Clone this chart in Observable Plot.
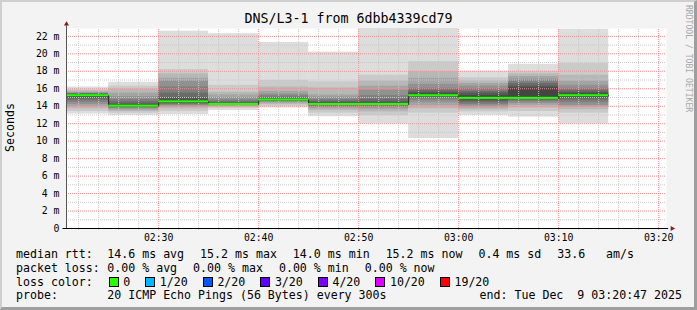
<!DOCTYPE html>
<html>
<head>
<meta charset="utf-8">
<script src="https://cdn.jsdelivr.net/npm/d3@7"></script>
<script src="https://cdn.jsdelivr.net/npm/@observablehq/plot@0.6"></script>
<style>
html,body{margin:0;padding:0;background:#ffffff;}
#chart{position:relative;width:697px;height:310px;background:#f3f3f3;overflow:hidden;font-family:"DejaVu Sans Mono",monospace;color:#000;}
#frame{position:absolute;left:0;top:0;width:697px;height:310px;box-sizing:border-box;border-top:2px solid #cfcfcf;border-left:2px solid #cfcfcf;border-right:3px solid #9e9e9e;border-bottom:3px solid #9e9e9e;pointer-events:none;}
#title{position:absolute;left:0;top:11px;width:697px;text-align:center;font-size:13.3px;line-height:16px;white-space:pre;}
#plot{position:absolute;left:0;top:0;}
#ylabel{position:absolute;left:3px;top:103px;writing-mode:vertical-rl;transform:rotate(180deg);font-size:11.6px;line-height:14px;white-space:pre;}
#vendor{position:absolute;left:684px;top:5px;writing-mode:vertical-rl;font-size:8.1px;line-height:9px;color:#a8a8a8;white-space:pre;}
#legend{position:absolute;left:16px;top:247px;width:666px;font-size:11.6px;white-space:pre;}
.line{position:relative;display:flex;align-items:center;height:13.8px;}
.lab{display:inline-block;width:91.3px;}
.item{margin-left:16px;}
.item.first{margin-left:0;}
.box{display:inline-block;width:8px;height:8px;border:1px solid #000;margin-right:4.6px;}
.li{display:flex;align-items:center;margin-left:15px;}
.li.first{margin-left:1.4px;}
.end{position:absolute;right:0;}
</style>
</head>
<body>
<div id="chart">
  <div id="plot"></div>
  <div id="title"></div>
  <div id="ylabel"></div>
  <div id="vendor"></div>
  <div id="legend"></div>
  <div id="frame"></div>
</div>
<script>
// ---------- data ----------
const titleText = "DNS/L3-1 from 6dbb4339cd79";
const yLabelText = "Seconds";
const vendorText = "RRDTOOL / TOBI OETIKER";
const windowStart = "02:20:47";
const windowEnd = "03:20:47";
const dayUTC = [2025, 11, 9];
const binStarts = ["02:20","02:25","02:30","02:35","02:40","02:45","02:50","02:55","03:00","03:05","03:10"];
const binMinutes = 5;
const medians = [15.2, 14.0, 14.5, 14.2, 14.7, 14.2, 14.2, 15.2, 14.9, 14.9, 15.2];
// 20 sorted ping times (ms) per 5-minute bin
const pings = [
  [13.1,13.4,13.7,13.95,14.2,14.45,14.7,14.9,15.05,15.15,15.25,15.3,15.35,15.4,15.45,15.5,15.6,15.75,15.9,16.2],
  [12.95,13.2,13.4,13.55,13.7,13.8,13.85,13.9,13.95,14.0,14.0,14.1,14.25,14.5,14.8,15.1,15.5,15.95,16.3,16.75],
  [13.05,13.4,13.7,13.9,14.05,14.15,14.25,14.35,14.45,14.5,14.5,14.7,15.0,15.5,16.2,16.9,17.2,17.7,18.2,22.6],
  [13.5,13.75,13.9,14.0,14.05,14.1,14.15,14.15,14.2,14.2,14.2,14.25,14.35,14.5,14.7,15.0,15.3,15.6,16.4,22.3],
  [13.8,14.0,14.2,14.35,14.45,14.55,14.6,14.65,14.7,14.7,14.7,14.75,14.85,15.0,15.2,15.4,15.7,16.2,16.95,21.3],
  [12.8,13.2,13.5,13.7,13.85,13.95,14.05,14.1,14.15,14.2,14.2,14.3,14.45,14.6,14.8,15.05,15.3,16.1,16.8,20.2],
  [12.0,12.9,13.35,13.6,13.8,13.95,14.05,14.1,14.15,14.2,14.2,14.3,14.5,14.8,15.2,15.85,16.3,16.9,17.55,23.0],
  [10.3,13.2,13.7,14.05,14.4,14.7,14.9,15.05,15.15,15.2,15.25,15.4,15.6,15.85,16.05,16.5,17.2,17.95,19.1,23.0],
  [12.95,13.35,13.6,13.8,14.0,14.2,14.4,14.6,14.8,14.9,14.95,15.2,15.5,15.7,16.0,16.3,16.6,16.9,17.25,18.0],
  [12.75,13.4,13.8,14.1,14.3,14.5,14.65,14.8,14.85,14.9,14.95,16.1,16.3,16.6,16.9,17.1,17.4,17.7,18.0,18.8],
  [12.0,13.2,13.6,13.9,14.1,14.4,14.7,14.9,15.05,15.15,15.25,15.4,15.6,15.85,16.05,16.4,16.9,17.55,18.9,22.8]
];
const yMax = 22.9;
const yTickValues = [0,2,4,6,8,10,12,14,16,18,20,22];
const xTickLabels = ["02:30","02:40","02:50","03:00","03:10","03:20"];
const rttLabel = "median rtt:";
const rttStats = ["14.6 ms avg","15.2 ms max","14.0 ms min","15.2 ms now","0.4 ms sd","33.6   am/s"];
const lossLabel = "packet loss:";
const lossStats = ["0.00 % avg","0.00 % max","0.00 % min","0.00 % now"];
const lossColorLabel = "loss color:";
const lossLabels = ["0","1/20","2/20","3/20","4/20","10/20","19/20"];
const lossColors = ["#26ff00","#00b8ff","#0059ff","#5e00ff","#7e00ff","#dd00ff","#ff0000"];
const probeLabel = "probe:";
const probeText = "20 ICMP Echo Pings (56 Bytes) every 300s";
const endText = "end: Tue Dec  9 03:20:47 2025";

// ---------- build ----------
const T = s => {
  const [h, m, sec] = s.split(":").map(Number);
  return new Date(Date.UTC(dayUTC[0], dayUTC[1], dayUTC[2], h, m, sec || 0));
};
const addMin = (d, m) => new Date(d.getTime() + m * 60000);
const t0 = T(windowStart), t1 = T(windowEnd);
const fmt = d3.utcFormat("%H:%M");

const half = 10;
const smoke = [];
binStarts.forEach((s, b) => {
  const p = pings[b];
  for (let ii = 1; ii <= half; ii++) {
    const g = Math.floor(190 / half * (half - ii)) + 50;
    smoke.push({x1: T(s), x2: addMin(T(s), binMinutes), y1: p[ii - 1], y2: p[20 - ii], fill: `rgb(${g},${g},${g})`});
  }
});
const medSteps = binStarts.map((s, b) => ({x: T(s), y: medians[b]}));
medSteps.push({x: addMin(T(binStarts[binStarts.length - 1]), binMinutes), y: medians[medians.length - 1]});
const medBand = binStarts.map((s, b) => ({x1: T(s), x2: addMin(T(s), binMinutes), m: medians[b]}));

const xMajor = xTickLabels.map(T);
const xMinor = d3.utcMinute.every(2).range(t0, t1).filter(d => d.getUTCMinutes() % 10 !== 0);
const yMajor = yTickValues.filter(v => v > 0);
const yMinor = d3.range(1, yMax, 2);

const gridStyle = {strokeDasharray: "1,1", strokeWidth: 1};
const plot = Plot.plot({
  width: 697, height: 245,
  marginLeft: 66, marginRight: 31, marginTop: 28, marginBottom: 17,
  style: {background: "transparent", fontFamily: "DejaVu Sans Mono", fontSize: "9.8px", color: "#000", overflow: "visible"},
  x: {type: "utc", domain: [t0, t1]},
  y: {domain: [0, yMax]},
  color: {type: "identity"},
  marks: [
    Plot.frame({fill: "#ffffff", stroke: "none"}),
    Plot.rect(smoke, {x1: "x1", x2: "x2", y1: "y1", y2: "y2", fill: "fill", clip: true}),
    Plot.ruleY(yMinor, {stroke: "#c8c8c8", ...gridStyle}),
    Plot.ruleX(xMinor, {y1: 0, y2: yMax, stroke: "#c8c8c8", ...gridStyle}),
    Plot.ruleY(yMajor, {stroke: "#f29090", ...gridStyle}),
    Plot.ruleX(xMajor, {y1: 0, y2: yMax, stroke: "#f29090", ...gridStyle}),
    Plot.ruleX(xMinor, {y1: 0, y2: -0.2, stroke: "#c8c8c8"}),
    Plot.ruleX(xMajor, {y1: 0, y2: -0.2, stroke: "#f29090"}),
    Plot.line(medSteps, {x: "x", y: "y", curve: "step-after", stroke: "#202020", strokeWidth: 1, clip: true}),
    Plot.rect(medBand, {x1: "x1", x2: "x2", y1: d => d.m - 0.12, y2: d => d.m + 0.12, fill: lossColors[0], clip: true}),
    Plot.ruleX([t0], {y1: 0, y2: 23.2, stroke: "#555555"}),
    Plot.ruleY([0], {x1: t0, x2: T("03:21:00"), stroke: "#000000"}),
    Plot.ruleY([0], {x1: addMin(t0, -0.35), x2: t0, stroke: "#000000"}),
    Plot.dot([{x: t0, y: 23.4}], {x: "x", y: "y", symbol: "triangle", r: 1.9, fill: "#8b1a1a", stroke: "none"}),
    Plot.dot([{x: T("03:21:21"), y: 0}], {x: "x", y: "y", symbol: "triangle", r: 1.9, rotate: 90, fill: "#8b1a1a", stroke: "none"}),
    Plot.axisY(yTickValues, {tickFormat: d => d === 0 ? "0" : d + " m", tickSize: 0, tickPadding: 7, label: null}),
    Plot.axisX(xMajor, {tickFormat: fmt, tickSize: 0, tickPadding: 6, label: null})
  ]
});
document.getElementById("plot").appendChild(plot);

document.getElementById("title").textContent = titleText;
document.getElementById("ylabel").textContent = yLabelText;
document.getElementById("vendor").textContent = vendorText;

const legend = document.getElementById("legend");
function line() { const d = document.createElement("div"); d.className = "line"; legend.appendChild(d); return d; }
function span(parent, cls, text) { const s = document.createElement("span"); s.className = cls; s.textContent = text; parent.appendChild(s); return s; }
let l1 = line(); span(l1, "lab", rttLabel); rttStats.forEach((t, i) => span(l1, i ? "item" : "item first", t));
let l2 = line(); span(l2, "lab", lossLabel); lossStats.forEach((t, i) => span(l2, i ? "item" : "item first", t));
let l3 = line(); span(l3, "lab", lossColorLabel);
lossLabels.forEach((t, i) => {
  const li = document.createElement("span"); li.className = i ? "li" : "li first";
  const b = document.createElement("span"); b.className = "box"; b.style.background = lossColors[i];
  li.appendChild(b); span(li, "", t); l3.appendChild(li);
});
let l4 = line(); span(l4, "lab", probeLabel); span(l4, "item first", probeText); span(l4, "end", endText);
</script>
</body>
</html>
